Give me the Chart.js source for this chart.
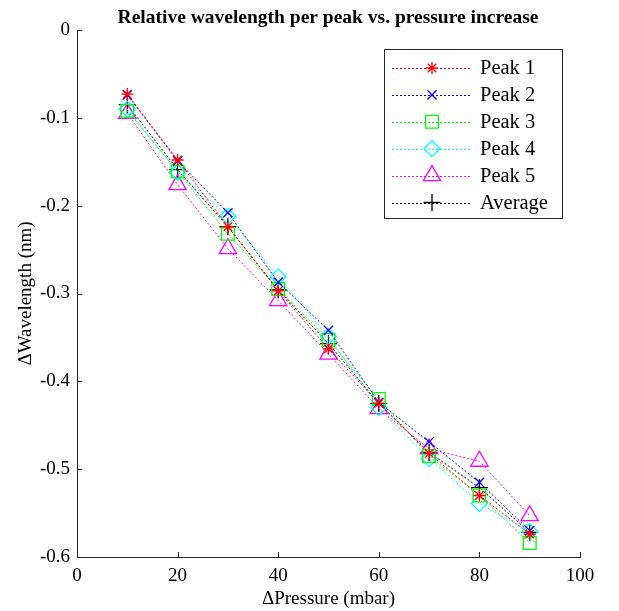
<!DOCTYPE html>
<html>
<head>
<meta charset="utf-8">
<script src="https://cdn.jsdelivr.net/npm/chart.js@4"></script>
<style>
  html,body{margin:0;padding:0;background:#fff;}
  #wrap{width:619px;height:611px;position:relative;}
</style>
</head>
<body>
<div id="wrap"><canvas id="chart" width="619" height="611"></canvas></div>
<script>
// datos
const titulo = 'Relative wavelength per peak vs. pressure increase';
const presion = [10, 20, 30, 40, 50, 60, 70, 80, 90];
const peak1 = [-0.073, -0.148, -0.224, -0.297, -0.363, -0.425, -0.482, -0.530, -0.574];
const peak2 = [-0.074, -0.149, -0.208, -0.287, -0.342, -0.424, -0.469, -0.515, -0.570];
const peak3 = [-0.092, -0.161, -0.232, -0.295, -0.353, -0.420, -0.485, -0.530, -0.584];
const peak4 = [-0.090, -0.162, -0.212, -0.281, -0.349, -0.430, -0.488, -0.539, -0.571];
const peak5 = [-0.095, -0.176, -0.249, -0.308, -0.369, -0.431, -0.477, -0.491, -0.553];
const average = [-0.085, -0.159, -0.224, -0.296, -0.357, -0.425, -0.481, -0.521, -0.572];
const etiquetas = ['Peak 1', 'Peak 2', 'Peak 3', 'Peak 4', 'Peak 5', 'Average'];
const xTicks = [0, 20, 40, 60, 80, 100];
const yTicks = [0, -0.1, -0.2, -0.3, -0.4, -0.5, -0.6];

const serif = '"Liberation Serif", "Times New Roman", serif';

const series = [peak1, peak2, peak3, peak4, peak5, average];
const colores = ['#ff0000', '#0000ff', '#00ff00', '#00ffff', '#ff00ff', '#000000'];
const marcas = ['star', 'crossRot', 'rect', 'rectRot', 'triangle', 'cross'];
const radios = [6, 6.5, 9, 8, 10, 8.5];

const datasets = series.map((vals, i) => ({
  label: etiquetas[i],
  data: presion.map((p, j) => ({x: p, y: vals[j]})),
  borderColor: colores[i],
  backgroundColor: 'rgba(0,0,0,0)',
  borderWidth: 1,
  borderDash: [2, 2],
  pointStyle: marcas[i],
  pointRadius: radios[i],
  pointBorderWidth: 1.3,
  pointBorderColor: colores[i],
  pointBackgroundColor: 'rgba(0,0,0,0)',
  tension: 0
}));

// ticks hacia dentro, como en MATLAB
const ticksInternos = {
  id: 'ticksInternos',
  afterDraw(chart){
    const ctx = chart.ctx;
    const xs = chart.scales.x, ys = chart.scales.y;
    ctx.save();
    ctx.strokeStyle = '#262626';
    ctx.lineWidth = 1;
    ctx.beginPath();
    xTicks.forEach(v=>{
      const px = Math.round(xs.getPixelForValue(v)) + 0.5;
      ctx.moveTo(px, ys.bottom);
      ctx.lineTo(px, ys.bottom - 5);
    });
    yTicks.forEach(v=>{
      const py = Math.round(ys.getPixelForValue(v)) + 0.5;
      ctx.moveTo(xs.left, py);
      ctx.lineTo(xs.left + 5, py);
    });
    ctx.stroke();
    ctx.restore();
  }
};

// título y leyenda dibujados a mano
const tituloYLeyenda = {
  id: 'tituloYLeyenda',
  afterDraw(chart){
    const ctx = chart.ctx;
    ctx.save();
    ctx.fillStyle = '#000';
    ctx.font = 'bold 19.5px ' + serif;
    ctx.textAlign = 'center';
    ctx.textBaseline = 'alphabetic';
    ctx.fillText(titulo, 328, 23);

    const bx = 384, by = 49, bw = 178, bh = 169;
    ctx.fillStyle = '#fff';
    ctx.fillRect(bx, by, bw, bh);
    ctx.strokeStyle = '#262626';
    ctx.lineWidth = 1;
    ctx.strokeRect(bx + 0.5, by + 0.5, bw, bh);

    ctx.font = '20.5px ' + serif;
    ctx.textAlign = 'left';
    ctx.textBaseline = 'middle';
    chart.data.datasets.forEach((ds, i)=>{
      const y = 68 + i * 26.9;
      ctx.strokeStyle = ds.borderColor;
      ctx.lineWidth = 1;
      ctx.setLineDash([2, 2]);
      ctx.beginPath();
      ctx.moveTo(392, Math.round(y) + 0.5);
      ctx.lineTo(472, Math.round(y) + 0.5);
      ctx.stroke();
      ctx.setLineDash([]);
      ctx.fillStyle = 'rgba(0,0,0,0)';
      ctx.lineWidth = ds.pointBorderWidth;
      Chart.helpers.drawPoint(ctx, {pointStyle: ds.pointStyle, radius: ds.pointRadius, rotation: 0, borderWidth: ds.pointBorderWidth}, 432, y);
      ctx.fillStyle = '#000';
      ctx.fillText(ds.label, 480, y + 1);
    });
    ctx.restore();
  }
};

new Chart(document.getElementById('chart'), {
  type: 'line',
  data: {datasets},
  options: {
    responsive: false,
    animation: false,
    layout: {padding: {top: 30, right: 39, left: 0, bottom: 0}},
    plugins: {
      legend: {display: false},
      title: {display: false},
      tooltip: {enabled: false}
    },
    scales: {
      x: {
        type: 'linear',
        min: 0, max: 100,
        afterFit(scale){ scale.height = 54; },
        afterBuildTicks(scale){ scale.ticks = xTicks.map(v=>({value: v})); },
        grid: {display: true, drawOnChartArea: false, drawTicks: false},
        border: {display: true, color: '#262626', width: 1},
        ticks: {color: '#000', font: {family: serif, size: 19}, padding: 8, maxRotation: 0},
        title: {display: true, text: '\u0394Pressure (mbar)', color: '#000', font: {family: serif, size: 19}, padding: {top: 0, bottom: 1}}
      },
      y: {
        type: 'linear',
        min: -0.6, max: 0,
        afterFit(scale){ scale.width = 77; },
        afterBuildTicks(scale){ scale.ticks = yTicks.map(v=>({value: v})); },
        grid: {display: true, drawOnChartArea: false, drawTicks: false},
        border: {display: true, color: '#262626', width: 1},
        ticks: {color: '#000', font: {family: serif, size: 19}, padding: 7,
          callback: v => v === 0 ? '0' : v.toFixed(1)},
        title: {display: true, text: '\u0394Wavelength (nm)', color: '#000', font: {family: serif, size: 19}, padding: {top: 15, bottom: 0}}
      }
    }
  },
  plugins: [ticksInternos, tituloYLeyenda]
});
</script>
</body>
</html>
